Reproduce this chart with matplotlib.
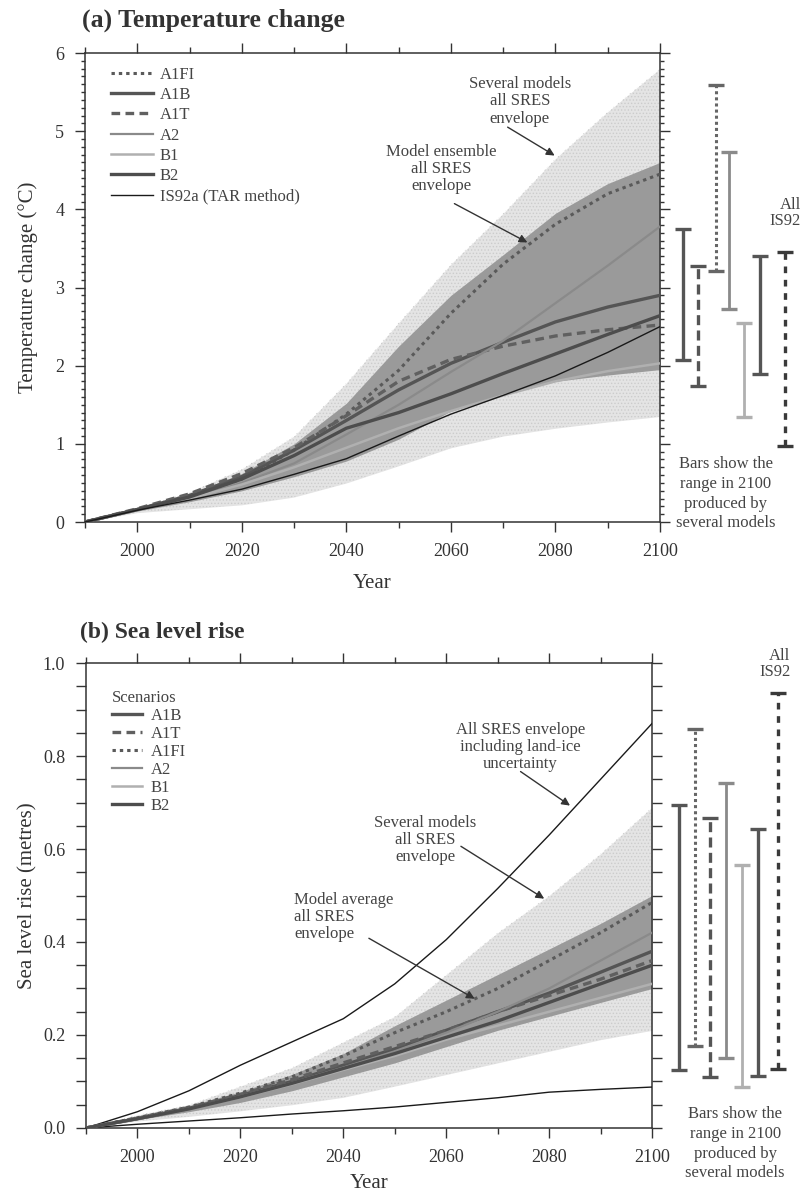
import matplotlib.pyplot as plt
from matplotlib.lines import Line2D
from matplotlib.ticker import MultipleLocator
from matplotlib.transforms import blended_transform_factory

plt.rcParams['font.family'] = ['Liberation Serif', 'DejaVu Serif']
plt.rcParams['hatch.linewidth'] = 0.6

years = [1990, 2000, 2010, 2020, 2030, 2040, 2050, 2060, 2070, 2080, 2090, 2100]

# (a) temperature change, degC
t_a1fi = [0, 0.16, 0.33, 0.55, 0.92, 1.38, 1.94, 2.67, 3.30, 3.81, 4.20, 4.45]
t_a1b = [0, 0.16, 0.34, 0.58, 0.92, 1.30, 1.69, 2.03, 2.30, 2.56, 2.75, 2.90]
t_a1t = [0, 0.17, 0.36, 0.62, 0.95, 1.36, 1.80, 2.08, 2.25, 2.38, 2.46, 2.52]
t_a2 = [0, 0.15, 0.30, 0.50, 0.75, 1.12, 1.50, 1.92, 2.32, 2.80, 3.28, 3.78]
t_b1 = [0, 0.15, 0.30, 0.48, 0.70, 0.95, 1.20, 1.42, 1.62, 1.80, 1.93, 2.03]
t_b2 = [0, 0.16, 0.32, 0.55, 0.85, 1.20, 1.40, 1.64, 1.90, 2.15, 2.40, 2.64]
t_is92a = [0, 0.15, 0.28, 0.42, 0.61, 0.81, 1.10, 1.38, 1.62, 1.87, 2.17, 2.50]
t_ens_lo = [0, 0.14, 0.26, 0.40, 0.58, 0.78, 1.06, 1.42, 1.64, 1.80, 1.88, 1.95]
t_ens_hi = [0, 0.18, 0.36, 0.62, 1.00, 1.52, 2.25, 2.90, 3.42, 3.95, 4.33, 4.60]
t_mod_lo = [0, 0.12, 0.17, 0.22, 0.32, 0.50, 0.72, 0.95, 1.10, 1.20, 1.28, 1.35]
t_mod_hi = [0, 0.18, 0.38, 0.68, 1.10, 1.78, 2.55, 3.30, 3.95, 4.65, 5.25, 5.80]

# ranges in 2100 from several models (low, high)
t_bar_names = ['A1B', 'A1T', 'A1FI', 'A2', 'B1', 'B2', 'IS92']
t_bar_lo = [2.07, 1.74, 3.21, 2.73, 1.34, 1.89, 0.97]
t_bar_hi = [3.75, 3.27, 5.59, 4.73, 2.55, 3.40, 3.46]

# (b) sea level rise, metres
s_a1b = [0, 0.020, 0.042, 0.070, 0.100, 0.135, 0.170, 0.210, 0.250, 0.290, 0.335, 0.380]
s_a1t = [0, 0.021, 0.044, 0.072, 0.104, 0.140, 0.175, 0.210, 0.250, 0.285, 0.320, 0.360]
s_a1fi = [0, 0.022, 0.045, 0.075, 0.110, 0.155, 0.205, 0.250, 0.300, 0.360, 0.420, 0.485]
s_a2 = [0, 0.020, 0.041, 0.068, 0.097, 0.130, 0.165, 0.205, 0.250, 0.300, 0.360, 0.420]
s_b1 = [0, 0.020, 0.041, 0.066, 0.094, 0.125, 0.155, 0.190, 0.220, 0.250, 0.280, 0.310]
s_b2 = [0, 0.020, 0.041, 0.067, 0.096, 0.128, 0.160, 0.195, 0.230, 0.270, 0.310, 0.350]
s_land_hi = [0, 0.035, 0.080, 0.135, 0.185, 0.235, 0.310, 0.405, 0.515, 0.630, 0.750, 0.870]
s_land_lo = [0, 0.008, 0.015, 0.022, 0.030, 0.037, 0.045, 0.055, 0.065, 0.077, 0.083, 0.088]
s_avg_lo = [0, 0.018, 0.035, 0.055, 0.080, 0.110, 0.140, 0.175, 0.210, 0.240, 0.270, 0.300]
s_avg_hi = [0, 0.025, 0.048, 0.078, 0.115, 0.160, 0.220, 0.275, 0.330, 0.385, 0.440, 0.500]
s_mod_lo = [0, 0.015, 0.025, 0.037, 0.050, 0.066, 0.090, 0.115, 0.140, 0.165, 0.190, 0.210]
s_mod_hi = [0, 0.028, 0.050, 0.090, 0.130, 0.185, 0.240, 0.330, 0.420, 0.500, 0.590, 0.690]

s_bar_names = ['A1B', 'A1FI', 'A1T', 'A2', 'B1', 'B2', 'IS92']
s_bar_lo = [0.125, 0.177, 0.109, 0.150, 0.088, 0.112, 0.127]
s_bar_hi = [0.694, 0.859, 0.667, 0.742, 0.565, 0.643, 0.936]

styles = {
    'A1FI': dict(color='#5a5a5a', lw=2.2, ls=(0, (1.1, 1.3))),
    'A1B': dict(color='#555555', lw=2.4, ls='-'),
    'A1T': dict(color='#606060', lw=2.4, ls=(0, (2.6, 1.6))),
    'A2': dict(color='#8a8a8a', lw=1.6, ls='-'),
    'B1': dict(color='#b0b0b0', lw=1.8, ls='-'),
    'B2': dict(color='#4d4d4d', lw=2.4, ls='-'),
    'IS92a': dict(color='#1a1a1a', lw=1.0, ls='-'),
}
bar_styles = {
    'A1B': dict(color='#555555', lw=2.4, ls='-'),
    'A1T': dict(color='#555555', lw=2.4, ls=(0, (3, 1.6))),
    'A1FI': dict(color='#666666', lw=2.2, ls=(0, (1, 1))),
    'A2': dict(color='#8a8a8a', lw=2.0, ls='-'),
    'B1': dict(color='#b0b0b0', lw=2.0, ls='-'),
    'B2': dict(color='#555555', lw=2.4, ls='-'),
    'IS92': dict(color='#3a3a3a', lw=2.4, ls=(0, (2, 2))),
}

fig = plt.figure(figsize=(8.04, 11.94), dpi=100)
ax1 = fig.add_axes([0.1057, 0.5628, 0.7152, 0.3928])
ax2 = fig.add_axes([0.107, 0.0553, 0.7040, 0.3894])


def style_axes(ax):
    ax.set_xlim(1990, 2100)
    ax.xaxis.set_major_locator(MultipleLocator(20))
    ax.xaxis.set_minor_locator(MultipleLocator(10))
    ax.tick_params(which='both', direction='out', top=True, right=True,
                   labelsize=13, width=1.0, color='#333333', labelcolor='#333333')
    ax.tick_params(which='major', length=7, pad=8)
    ax.tick_params(which='minor', length=4)
    for sp in ax.spines.values():
        sp.set_linewidth(1.1)
        sp.set_color('#333333')


def envelope(ax, lo, hi, face):
    ax.fill_between(years, lo, hi, color=face, lw=0, zorder=1)


def draw_bars(ax, names, lo, hi, xs):
    tr = blended_transform_factory(ax.transAxes, ax.transData)
    for name, a, b, x in zip(names, lo, hi, xs):
        st = bar_styles[name]
        ax.plot([x, x], [a, b], transform=tr, clip_on=False, color=st['color'],
                lw=st['lw'], ls=st['ls'], solid_capstyle='butt')
        ax.plot([x, x], [a, b], transform=tr, clip_on=False, ls='none',
                marker='_', ms=11, mew=2.4, color=st['color'])


# ---------- (a) temperature ----------
envelope(ax1, t_mod_lo, t_mod_hi, '#e4e4e4')
ax1.fill_between(years, t_mod_lo, t_mod_hi, facecolor='none', edgecolor='#cccccc',
                 hatch='.....', lw=0, zorder=1)
envelope(ax1, t_ens_lo, t_ens_hi, '#9a9a9a')

series_a = [('A1FI', t_a1fi), ('A1B', t_a1b), ('A1T', t_a1t), ('A2', t_a2),
            ('B1', t_b1), ('B2', t_b2), ('IS92a', t_is92a)]
handles = []
for name, vals in series_a:
    st = styles[name]
    ax1.plot(years, vals, color=st['color'], lw=st['lw'], ls=st['ls'], zorder=3)
    lab = 'IS92a (TAR method)' if name == 'IS92a' else name
    handles.append(Line2D([], [], color=st['color'], lw=st['lw'], ls=st['ls'], label=lab))

ax1.set_ylim(0, 6)
ax1.yaxis.set_major_locator(MultipleLocator(1))
ax1.yaxis.set_minor_locator(MultipleLocator(0.1))
style_axes(ax1)
ax1.tick_params(axis='y', which='minor', length=3)
ax1.set_xlabel('Year', fontsize=15, color='#333333', labelpad=10)
ax1.set_ylabel('Temperature change (°C)', fontsize=15, color='#333333')
ax1.yaxis.set_label_coords(-0.082, 0.5)
ax1.set_title('(a) Temperature change', loc='left', fontsize=18.5, fontweight='bold',
              color='#333333', x=-0.005, pad=19)

leg = ax1.legend(handles=handles, loc='upper left', bbox_to_anchor=(0.02, 1.003),
                 frameon=False, fontsize=12, handlelength=2.5, handletextpad=0.4,
                 labelspacing=0.26)
for t in leg.get_texts():
    t.set_color('#444444')

tr1 = blended_transform_factory(ax1.transAxes, ax1.transData)
ax1.text(2073.2, 5.38, 'Several models\nall SRES\nenvelope', ha='center', va='center',
         fontsize=12, color='#444444', linespacing=1.1)
ax1.annotate('', xy=(2080.3, 4.67), xytext=(2070.4, 5.07),
             arrowprops=dict(arrowstyle='-|>', color='#333333', lw=1.0, mutation_scale=12))
ax1.text(2058.1, 4.52, 'Model ensemble\nall SRES\nenvelope', ha='center', va='center',
         fontsize=12, color='#444444', linespacing=1.1)
ax1.annotate('', xy=(2075.1, 3.56), xytext=(2060.2, 4.09),
             arrowprops=dict(arrowstyle='-|>', color='#333333', lw=1.0, mutation_scale=12))

draw_bars(ax1, t_bar_names, t_bar_lo, t_bar_hi,
          [1.040, 1.066, 1.097, 1.120, 1.146, 1.174, 1.217])
ax1.text(1.245, 3.95, 'All\nIS92', transform=tr1,
         ha='right', va='center', fontsize=12, color='#444444', linespacing=1.0)
ax1.text(1.114, 0.36, 'Bars show the\nrange in 2100\nproduced by\nseveral models',
         transform=tr1, ha='center', va='center', fontsize=12, color='#444444',
         linespacing=1.3)

# ---------- (b) sea level ----------
envelope(ax2, s_mod_lo, s_mod_hi, '#e4e4e4')
ax2.fill_between(years, s_mod_lo, s_mod_hi, facecolor='none', edgecolor='#cccccc',
                 hatch='.....', lw=0, zorder=1)
envelope(ax2, s_avg_lo, s_avg_hi, '#9a9a9a')
ax2.plot(years, s_land_hi, color='#1a1a1a', lw=1.0, zorder=3)
ax2.plot(years, s_land_lo, color='#1a1a1a', lw=1.0, zorder=3)

series_b = [('A1B', s_a1b), ('A1T', s_a1t), ('A1FI', s_a1fi), ('A2', s_a2),
            ('B1', s_b1), ('B2', s_b2)]
handles_b = []
for name, vals in series_b:
    st = styles[name]
    ax2.plot(years, vals, color=st['color'], lw=st['lw'], ls=st['ls'], zorder=3)
    handles_b.append(Line2D([], [], color=st['color'], lw=st['lw'], ls=st['ls'], label=name))

ax2.set_ylim(0, 1.0)
ax2.yaxis.set_major_locator(MultipleLocator(0.2))
ax2.yaxis.set_minor_locator(MultipleLocator(0.05))
ax2.yaxis.set_major_formatter(lambda v, p: f'{v:.1f}')
style_axes(ax2)
ax2.tick_params(axis='y', which='minor', length=7)
ax2.set_xlabel('Year', fontsize=15, color='#333333', labelpad=6)
ax2.set_ylabel('Sea level rise (metres)', fontsize=15, color='#333333')
ax2.yaxis.set_label_coords(-0.085, 0.5)
ax2.set_title('(b) Sea level rise', loc='left', fontsize=17, fontweight='bold',
              color='#333333', x=-0.01, pad=18)

leg2 = ax2.legend(handles=handles_b, loc='upper left', bbox_to_anchor=(0.02, 0.975),
                  frameon=False, fontsize=12, handlelength=1.8, handletextpad=0.5,
                  labelspacing=0.12, title='Scenarios', title_fontsize=12,
                  alignment='left')
for t in leg2.get_texts():
    t.set_color('#444444')
leg2.get_title().set_color('#444444')

tr2 = blended_transform_factory(ax2.transAxes, ax2.transData)
ax2.text(2074.4, 0.82, 'All SRES envelope\nincluding land-ice\nuncertainty', ha='center',
         va='center', fontsize=12, color='#444444', linespacing=1.1)
ax2.annotate('', xy=(2084.5, 0.69), xytext=(2074.0, 0.77),
             arrowprops=dict(arrowstyle='-|>', color='#333333', lw=1.0, mutation_scale=12))
ax2.text(2055.9, 0.619, 'Several models\nall SRES\nenvelope', ha='center', va='center',
         fontsize=12, color='#444444', linespacing=1.1)
ax2.annotate('', xy=(2079.5, 0.49), xytext=(2062.4, 0.609),
             arrowprops=dict(arrowstyle='-|>', color='#333333', lw=1.0, mutation_scale=12))
ax2.text(2030.4, 0.454, 'Model average\nall SRES\nenvelope', ha='left', va='center',
         fontsize=12, color='#444444', linespacing=1.1)
ax2.annotate('', xy=(2066.0, 0.275), xytext=(2044.5, 0.411),
             arrowprops=dict(arrowstyle='-|>', color='#333333', lw=1.0, mutation_scale=12))

draw_bars(ax2, s_bar_names, s_bar_lo, s_bar_hi,
          [1.048, 1.076, 1.102, 1.131, 1.159, 1.187, 1.223])
ax2.text(1.244, 0.997, 'All\nIS92', transform=tr2,
         ha='right', va='center', fontsize=12, color='#444444', linespacing=1.0)
ax2.text(1.147, -0.034, 'Bars show the\nrange in 2100\nproduced by\nseveral models',
         transform=tr2, ha='center', va='center', fontsize=12, color='#444444',
         linespacing=1.3)

fig.savefig('out.png', dpi=100, facecolor='white')
